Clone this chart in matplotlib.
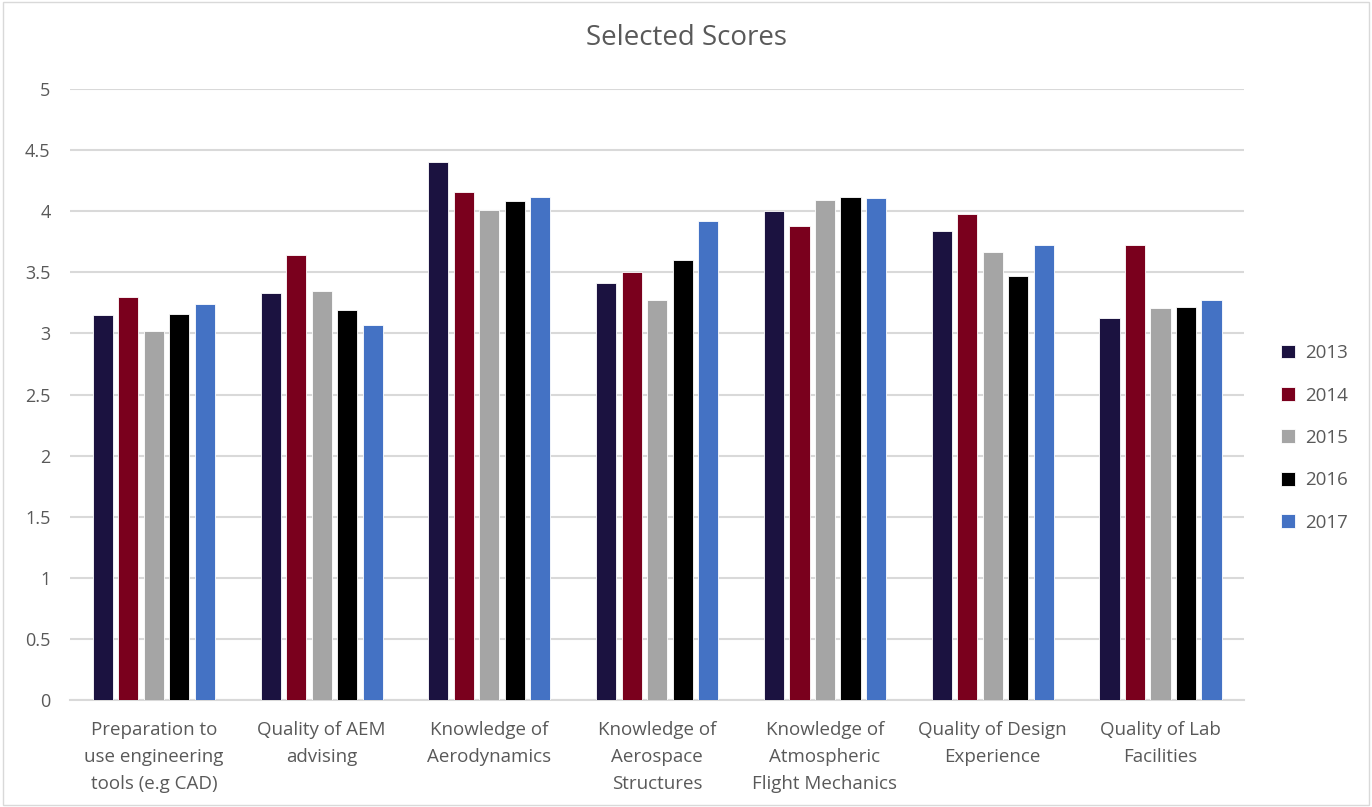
import numpy as np
import matplotlib
matplotlib.use('Agg')
import matplotlib.pyplot as plt
from matplotlib.patches import Rectangle

# --- data ---
categories = ['Preparation to\nuse engineering\ntools (e.g CAD)',
              'Quality of AEM\nadvising',
              'Knowledge of\nAerodynamics',
              'Knowledge of\nAerospace\nStructures',
              'Knowledge of\nAtmospheric\nFlight Mechanics',
              'Quality of Design\nExperience',
              'Quality of Lab\nFacilities']
years = ['2013', '2014', '2015', '2016', '2017']
scores_2013 = [3.15, 3.33, 4.40, 3.41, 4.00, 3.84, 3.13]
scores_2014 = [3.30, 3.64, 4.16, 3.50, 3.88, 3.98, 3.72]
scores_2015 = [3.02, 3.35, 4.01, 3.27, 4.09, 3.67, 3.21]
scores_2016 = [3.16, 3.19, 4.08, 3.60, 4.12, 3.47, 3.22]
scores_2017 = [3.24, 3.07, 4.12, 3.92, 4.11, 3.72, 3.27]
yticks = [0, 0.5, 1, 1.5, 2, 2.5, 3, 3.5, 4, 4.5, 5]
ytick_labels = ['0', '0.5', '1', '1.5', '2', '2.5', '3', '3.5', '4', '4.5', '5']

series = [scores_2013, scores_2014, scores_2015, scores_2016, scores_2017]
colors = ['#1B1240', '#7A001D', '#A5A5A5', '#000000', '#4472C4']

plt.rcParams['font.family'] = ['Open Sans', 'DejaVu Sans']
text_col = '#595959'
grid_col = '#D9D9D9'

fig = plt.figure(figsize=(13.72, 8.07), dpi=100)
ax = fig.add_axes([0.051, 0.1326, 0.856, 0.7571])

x = np.arange(len(categories))
pitch = 0.152
width = 0.12
for i, (vals, col, yr) in enumerate(zip(series, colors, years)):
    offs = (i - 2) * pitch
    ax.bar(x + offs, vals, width, color=col, label=yr,
           edgecolor='white', linewidth=0.6, zorder=3)

ax.set_xlim(-0.5, len(categories) - 0.5)
ax.set_ylim(0, 5)
ax.set_yticks(yticks)
ax.set_yticklabels(ytick_labels)
ax.set_xticks(x)
ax.set_xticklabels(categories, linespacing=1.65)

ax.grid(axis='y', color=grid_col, linewidth=1.5, zorder=0)
for s in ['top', 'right', 'left']:
    ax.spines[s].set_visible(False)
ax.spines['bottom'].set_color(grid_col)
ax.spines['bottom'].set_linewidth(1.5)
ax.tick_params(axis='both', length=0, colors=text_col, labelsize=13)
ax.tick_params(axis='y', pad=14)
ax.tick_params(axis='x', pad=15)
for lbl in ax.get_xticklabels():
    lbl.set_fontsize(13.5)
    lbl.set_verticalalignment('top')

fig.suptitle('Selected Scores', fontsize=20, color=text_col, y=0.953, va='center')

leg = ax.legend(loc='center left', bbox_to_anchor=(1.017, 0.429), frameon=False,
                fontsize=13.5, handlelength=0.75, handleheight=0.75,
                handletextpad=0.5, labelspacing=1.3, labelcolor=text_col)

# light chart-area border
fig.patches.append(Rectangle((0.002, 0.002), 0.996, 0.996, transform=fig.transFigure,
                             fill=False, edgecolor='#D9D9D9', linewidth=1))

plt.savefig('out.png', dpi=100)
